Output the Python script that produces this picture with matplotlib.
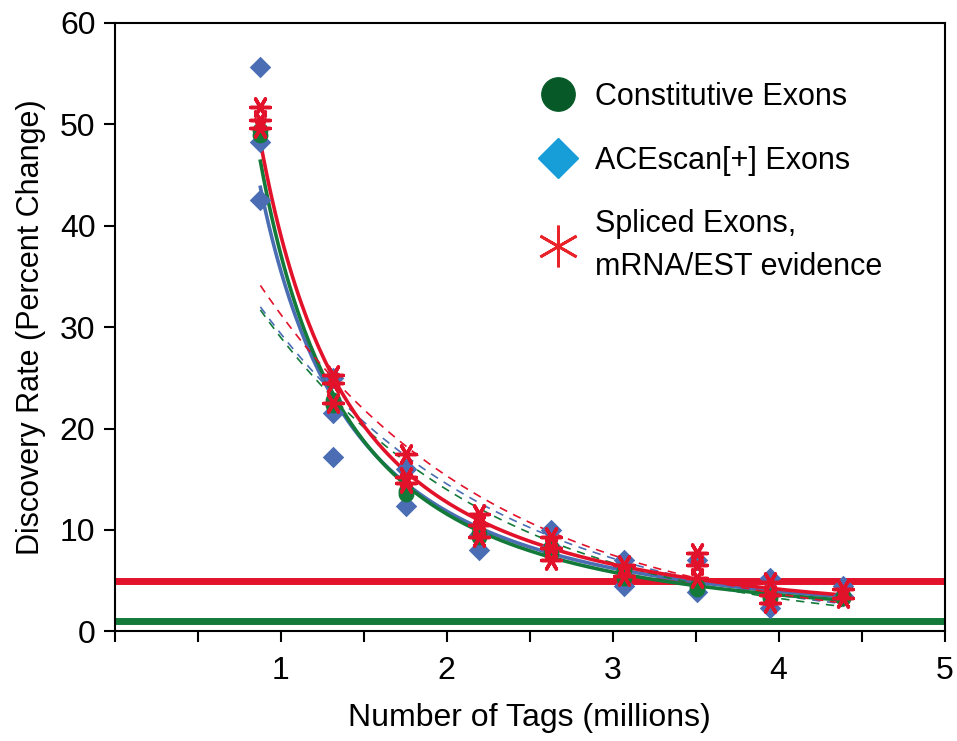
import numpy as np
import matplotlib
matplotlib.use("Agg")
import matplotlib.pyplot as plt
from matplotlib.lines import Line2D

plt.rcParams['font.family'] = ['Liberation Sans', 'DejaVu Sans']

# sequencing depth steps (millions of tags)
tags = [0.877, 1.315, 1.754, 2.192, 2.631, 3.069, 3.508, 3.946, 4.385]

# discovery rates, one list per step
acescan = [[55.7, 48.3, 42.5], [25.0, 21.5, 17.2], [16.0, 12.4], [9.5, 8.0],
           [10.0, 8.3], [7.0, 4.5], [7.0, 3.9], [5.3, 2.3], [4.5, 3.5]]
constitutive = [[49.4, 49.0], [22.8, 22.3], [13.8, 13.5], [9.7, 9.3],
                [8.3, 7.7], [6.0, 5.3], [4.5, 4.2], [3.5, 3.3], [3.5, 3.3]]
spliced = [[51.7, 50.4, 49.6], [25.3, 24.5, 22.5], [17.5, 15.2, 14.6],
           [11.6, 10.5, 9.3], [9.3, 8.2, 7.0], [6.5, 5.5], [7.7, 6.5, 5.3],
           [4.9, 3.6, 2.8], [4.2, 3.3]]

thresholds = [5, 1]

blue = '#4a6db4'
green = '#137a3a'
red = '#e3122b'


def flatten(groups):
    xs, ys = [], []
    for t, g in zip(tags, groups):
        xs += [t] * len(g)
        ys += g
    return np.array(xs), np.array(ys)


fig = plt.figure(figsize=(9.57, 7.41), dpi=100)
ax = fig.add_axes([0.120, 0.148, 0.867, 0.821])

# threshold lines
ax.axhline(thresholds[0], color=red, lw=5, zorder=1)
ax.axhline(thresholds[1], color=green, lw=5, zorder=1)

xfit = np.linspace(tags[0], tags[-1], 200)
series = [(acescan, blue), (constitutive, green), (spliced, red)]
for groups, col in series:
    x, y = flatten(groups)
    # power trend line (solid) and exponential trend line (dashed)
    b, a = np.polyfit(np.log(x), np.log(y), 1)
    ax.plot(xfit, np.exp(a) * xfit ** b, color=col, lw=2.6, zorder=3)
    b2, a2 = np.polyfit(x, np.log(y), 1)
    ax.plot(xfit, np.exp(a2 + b2 * xfit), color=col, lw=1.2,
            ls=(0, (5, 4)), zorder=3)

x, y = flatten(acescan)
ax.scatter(x, y, marker='D', s=120, color=blue, zorder=4, lw=0)
x, y = flatten(constitutive)
ax.scatter(x, y, marker='o', s=130, color=green, zorder=5, lw=0)
x, y = flatten(spliced)
ax.scatter(x, y, marker=(6, 2, 90), s=200, color=red, zorder=6, lw=2.5)

ax.set_xlim(0, 5)
ax.set_ylim(0, 60)
ax.set_xticks([0, 0.5, 1, 1.5, 2, 2.5, 3, 3.5, 4, 4.5, 5])
ax.set_xticklabels(['', '', '1', '', '2', '', '3', '', '4', '', '5'])
ax.set_yticks(range(0, 61, 10))
ax.tick_params(direction='out', length=8, width=1.5, labelsize=23, pad=6)
ax.tick_params(axis='x', pad=10)
for s in ax.spines.values():
    s.set_linewidth(1.5)

ax.set_xlabel('Number of Tags (millions)', fontsize=23, labelpad=12)
ax.set_ylabel('Discovery Rate (Percent Change)', fontsize=22, labelpad=10)

handles = [
    Line2D([], [], ls='none', marker='o', ms=24, mfc='#075a28', mec='#075a28'),
    Line2D([], [], ls='none', marker='D', ms=20, mfc='#179ed8', mec='#179ed8'),
    Line2D([], [], ls='none', marker=(6, 2, 0), ms=30, mec='#e8232a', mew=2),
]
labels = ['Constitutive Exons', 'ACEscan[+] Exons',
          'Spliced Exons,\nmRNA/EST evidence']
leg = ax.legend(handles, labels, loc='upper left', bbox_to_anchor=(0.475, 0.948),
                frameon=False, fontsize=22, labelspacing=1.1, handletextpad=0.5,
                handlelength=1.4)
for t in leg.get_texts():
    t.set_linespacing(1.55)

fig.savefig('out.png', dpi=100)
